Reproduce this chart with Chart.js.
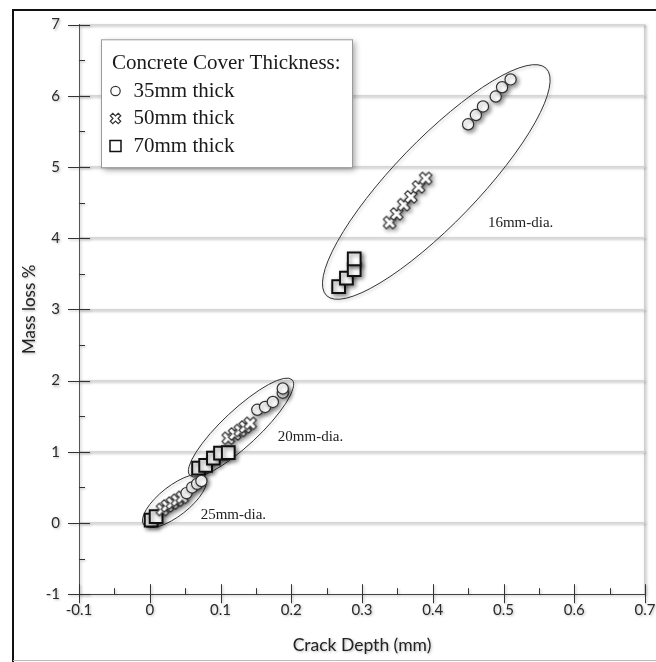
<!DOCTYPE html>
<html>
<head>
<meta charset="utf-8">
<script src="https://cdn.jsdelivr.net/npm/chart.js@4"></script>
<style>
  html, body { margin: 0; padding: 0; background: #fff; }
  #wrap { width: 656px; height: 662px; position: relative; }
</style>
</head>
<body>
<div id="wrap"><canvas id="c" width="656" height="662"></canvas></div>
<script>
// ---- data ----
const seriesLabels = ['35mm thick', '50mm thick', '70mm thick'];
const legendTitle = 'Concrete Cover Thickness:';
const xAxisTitle = 'Crack Depth (mm)';
const yAxisTitle = 'Mass loss %';

// 35mm cover (circles)
const cover35X = [0.052, 0.060, 0.067, 0.073,  0.152, 0.163, 0.174, 0.188, 0.188,  0.450, 0.461, 0.471, 0.489, 0.498, 0.510];
const cover35Y = [0.42, 0.50, 0.55, 0.59,      1.59, 1.63, 1.70, 1.83, 1.89,      5.60, 5.73, 5.85, 5.99, 6.12, 6.23];
// 50mm cover (crosses)
const cover50X = [0.018, 0.025, 0.032, 0.039, 0.046,  0.111, 0.120, 0.128, 0.135, 0.142,  0.339, 0.349, 0.359, 0.369, 0.380, 0.390];
const cover50Y = [0.19, 0.24, 0.28, 0.32, 0.36,       1.19, 1.25, 1.30, 1.35, 1.40,       4.22, 4.34, 4.47, 4.58, 4.72, 4.84];
// 70mm cover (squares)
const cover70X = [0.002, 0.009,  0.069, 0.079, 0.090, 0.100, 0.111,  0.267, 0.278, 0.289, 0.289];
const cover70Y = [0.04, 0.09,    0.77, 0.81, 0.91, 0.98, 0.99,       3.32, 3.44, 3.56, 3.71];

// cluster annotations
const clusterLabels = ['16mm-dia.', '20mm-dia.', '25mm-dia.'];
const clusterCenterX = [0.405, 0.129, 0.035];
const clusterCenterY = [4.79, 1.34, 0.31];
const clusterLabelX = [0.478, 0.181, 0.072];
const clusterLabelY = [4.21, 1.21, 0.11];

// axis ranges / ticks
const xMin = -0.1, xMax = 0.7, xStep = 0.1, xMinorStep = 0.05;
const yMin = -1, yMax = 7, yStep = 1, yMinorStep = 0.5;

// ---- styles ----
const ellipseStyle = [ {a: 158, b: 42, deg: 46}, {a: 70, b: 18, deg: 43}, {a: 39, b: 15, deg: 38} ];

function zip(xs, ys) { return xs.map((x, i) => ({x: x, y: ys[i]})); }

function makeCross(scale) {
  const s = Math.round(20 * scale);
  const cv = document.createElement('canvas');
  cv.width = s; cv.height = s;
  const g = cv.getContext('2d');
  g.translate(s / 2, s / 2);
  g.rotate(Math.PI / 4);
  const L = 6.6 * scale, w = 2.1 * scale;
  g.beginPath();
  g.moveTo(-w, -L); g.lineTo(w, -L); g.lineTo(w, -w); g.lineTo(L, -w); g.lineTo(L, w);
  g.lineTo(w, w); g.lineTo(w, L); g.lineTo(-w, L); g.lineTo(-w, w); g.lineTo(-L, w);
  g.lineTo(-L, -w); g.lineTo(-w, -w); g.closePath();
  g.fillStyle = '#fff'; g.fill();
  g.lineWidth = 1.2; g.strokeStyle = '#333'; g.stroke();
  return cv;
}
const crossImg = makeCross(1);
const crossLegendImg = makeCross(0.85);

const near = (a, b) => Math.abs(a - b) < 1e-6;

function softShadow(ctx) {
  ctx.shadowColor = 'rgba(0,0,0,0.28)'; ctx.shadowBlur = 2.5; ctx.shadowOffsetX = 1.2; ctx.shadowOffsetY = 1.2;
}

const framePlugin = {
  id: 'frame',
  beforeDraw(chart) {
    const ctx = chart.ctx;
    ctx.save();
    ctx.fillStyle = '#fff';
    ctx.fillRect(0, 0, chart.width, chart.height);
    ctx.restore();
    ctx.save();           // soft shadow for axes, grid and labels
    softShadow(ctx);
  },
  beforeDatasetsDraw(chart) {
    chart.ctx.restore();
  },
  afterDraw(chart) {
    const ctx = chart.ctx;
    ctx.save();
    ctx.strokeStyle = '#111';
    ctx.lineWidth = 2;
    ctx.beginPath();
    ctx.moveTo(13, 662); ctx.lineTo(13, 10); ctx.lineTo(656, 10);
    ctx.stroke();
    ctx.strokeStyle = '#bbb'; ctx.lineWidth = 1;
    ctx.beginPath(); ctx.moveTo(13, 660.5); ctx.lineTo(656, 660.5); ctx.stroke();
    ctx.restore();
  }
};

const ticksPlugin = {
  id: 'tickmarks',
  afterDraw(chart) {
    const ctx = chart.ctx, xs = chart.scales.x, ys = chart.scales.y;
    const ca = chart.chartArea;
    ctx.save();
    softShadow(ctx);
    ctx.strokeStyle = '#333';
    ctx.lineWidth = 1;
    for (let i = 0; yMin + i * yMinorStep <= yMax + 1e-9; i++) {
      const v = yMin + i * yMinorStep;
      const py = Math.round(ys.getPixelForValue(v)) + 0.5;
      const major = i % 2 === 0;
      ctx.beginPath();
      if (major) { ctx.moveTo(ca.left - 11, py); ctx.lineTo(ca.left + 11, py); }
      else { ctx.moveTo(ca.left, py); ctx.lineTo(ca.left + 6, py); }
      ctx.stroke();
    }
    for (let i = 0; xMin + i * xMinorStep <= xMax + 1e-9; i++) {
      const v = xMin + i * xMinorStep;
      const px = Math.round(xs.getPixelForValue(v)) + 0.5;
      const major = i % 2 === 0;
      ctx.beginPath();
      if (major) { ctx.moveTo(px, ca.bottom - 10); ctx.lineTo(px, ca.bottom + 9); }
      else { ctx.moveTo(px, ca.bottom - 6); ctx.lineTo(px, ca.bottom); }
      ctx.stroke();
    }
    ctx.restore();
  }
};

const annotPlugin = {
  id: 'clusters',
  beforeDatasetsDraw(chart) {
    const ctx = chart.ctx, xs = chart.scales.x, ys = chart.scales.y;
    ctx.save();
    clusterCenterX.forEach((cx, i) => {
      const px = xs.getPixelForValue(cx), py = ys.getPixelForValue(clusterCenterY[i]);
      const st = ellipseStyle[i];
      ctx.save();
      ctx.shadowColor = 'rgba(0,0,0,0.25)'; ctx.shadowBlur = 3; ctx.shadowOffsetX = 1.5; ctx.shadowOffsetY = 1.5;
      ctx.beginPath();
      ctx.ellipse(px, py, st.a, st.b, -st.deg * Math.PI / 180, 0, Math.PI * 2);
      ctx.strokeStyle = '#333'; ctx.lineWidth = 1;
      ctx.stroke();
      ctx.restore();
      ctx.fillStyle = '#222';
      ctx.font = '15px "Liberation Serif", "Times New Roman", serif';
      ctx.textBaseline = 'middle'; ctx.textAlign = 'left';
      ctx.fillText(clusterLabels[i], xs.getPixelForValue(clusterLabelX[i]), ys.getPixelForValue(clusterLabelY[i]));
    });
    ctx.restore();
    ctx.save();
    ctx.shadowColor = 'rgba(0,0,0,0.45)'; ctx.shadowBlur = 4; ctx.shadowOffsetX = 2; ctx.shadowOffsetY = 2;
  },
  afterDatasetsDraw(chart) {
    chart.ctx.restore();
  }
};

const legendPlugin = {
  id: 'customLegend',
  afterDatasetsDraw(chart) {
    const ctx = chart.ctx, ca = chart.chartArea;
    const left = ca.left + 22, top = ca.top + 14.7, w = 251, h = 128;
    ctx.save();
    ctx.shadowColor = 'rgba(0,0,0,0.35)'; ctx.shadowBlur = 6; ctx.shadowOffsetX = 3; ctx.shadowOffsetY = 3;
    ctx.fillStyle = '#fff';
    ctx.fillRect(left, top, w, h);
    ctx.restore();
    ctx.save();
    ctx.strokeStyle = '#9a9a9a'; ctx.lineWidth = 1;
    ctx.strokeRect(left + 0.5, top + 0.5, w, h);
    ctx.fillStyle = '#1a1a1a';
    ctx.font = '21px "Liberation Serif", "Times New Roman", serif';
    ctx.textBaseline = 'middle'; ctx.textAlign = 'left';
    ctx.fillText(legendTitle, left + 11, top + 24);
    chart.data.datasets.forEach((ds, i) => {
      const y = top + 51.7 + i * 27.5;
      const sx = left + 14.5;
      ctx.save();
      if (i === 0) {
        ctx.beginPath(); ctx.arc(sx, y, 4.7, 0, Math.PI * 2);
        ctx.fillStyle = '#fff'; ctx.fill(); ctx.strokeStyle = '#333'; ctx.lineWidth = 1.2; ctx.stroke();
      } else if (i === 1) {
        ctx.drawImage(crossLegendImg, sx - crossLegendImg.width / 2, y - crossLegendImg.height / 2);
      } else {
        ctx.fillStyle = '#fff'; ctx.fillRect(sx - 5.5, y - 5.5, 11, 11);
        ctx.strokeStyle = '#111'; ctx.lineWidth = 1.5; ctx.strokeRect(sx - 5.5, y - 5.5, 11, 11);
      }
      ctx.restore();
      ctx.fillStyle = '#1a1a1a';
      ctx.fillText(ds.label, left + 32.5, y);
    });
    ctx.restore();
  }
};

const fmt = (v) => { const r = Math.round(v * 10) / 10; return (Math.abs(r) < 1e-9 ? 0 : r).toString(); };

new Chart(document.getElementById('c'), {
  type: 'scatter',
  data: {
    datasets: [
      { label: seriesLabels[0], data: zip(cover35X, cover35Y), pointStyle: 'circle', pointRadius: 5.6,
        backgroundColor: '#fff', borderColor: '#333', borderWidth: 1.2 },
      { label: seriesLabels[1], data: zip(cover50X, cover50Y), pointStyle: crossImg, pointRadius: 7,
        backgroundColor: '#fff', borderColor: '#333' },
      { label: seriesLabels[2], data: zip(cover70X, cover70Y), pointStyle: 'rect', pointRadius: 9,
        backgroundColor: '#fff', borderColor: '#111', borderWidth: 2 }
    ]
  },
  options: {
    responsive: false,
    animation: false,
    events: [],
    layout: { padding: { left: 0, right: 5.4, top: 24.6, bottom: 0 } },
    plugins: { legend: { display: false }, tooltip: { enabled: false } },
    scales: {
      x: {
        type: 'linear', min: xMin, max: xMax,
        ticks: { stepSize: xStep, padding: 7, color: '#2a2a2a', callback: fmt,
                 font: { family: 'Lato', size: 15 } },
        grid: { drawTicks: false, lineWidth: 1.5,
                color: (c) => (c.tick && near(c.tick.value, xMax)) ? '#cfcfcf' : 'rgba(0,0,0,0)' },
        border: { display: true, color: '#444', width: 1 },
        title: { display: true, text: xAxisTitle, color: '#222', font: { family: 'Lato', size: 17.5 },
                 padding: { top: 0, bottom: 6 } },
        afterFit(s) { s.height = 67.8; s.paddingLeft = 0; s.paddingRight = 0; }
      },
      y: {
        type: 'linear', min: yMin, max: yMax,
        ticks: { stepSize: yStep, padding: 19, color: '#2a2a2a', callback: fmt,
                 font: { family: 'Lato', size: 15 } },
        grid: { drawTicks: false, lineWidth: 1.5,
                color: (c) => (c.tick && near(c.tick.value, yMin)) ? 'rgba(0,0,0,0)' : '#d6d6d6' },
        border: { display: true, color: '#555', width: 1 },
        title: { display: true, text: yAxisTitle, color: '#222', font: { family: 'Lato', size: 17 },
                 padding: { top: 19, bottom: 0 } },
        afterFit(s) { s.width = 79; s.paddingTop = 0; s.paddingBottom = 0; }
      }
    }
  },
  plugins: [framePlugin, annotPlugin, legendPlugin, ticksPlugin]
});
</script>
</body>
</html>
